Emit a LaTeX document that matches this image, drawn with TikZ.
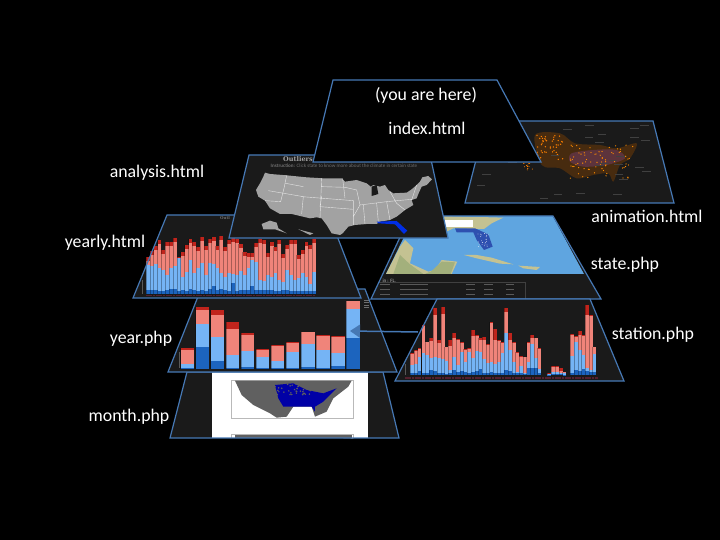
\documentclass[tikz,border=0pt]{standalone}
\usepackage{fontspec}
\setmainfont{Carlito}
\newfontfamily\titlefont{DejaVu Serif}
\usetikzlibrary{arrows.meta}
\definecolor{edgeblue}{HTML}{4678B4}
\definecolor{panel}{HTML}{1A1A1A}
\definecolor{barred}{HTML}{C0241C}
\definecolor{barsalmon}{HTML}{F0847A}
\definecolor{barlight}{HTML}{75B4F5}
\definecolor{bardark}{HTML}{1C64BE}
\definecolor{barstrip}{HTML}{55202E}
\definecolor{seablue}{HTML}{5FA5E0}
\definecolor{landtan}{HTML}{C4C292}
\definecolor{landgreen}{HTML}{A3B07C}
\definecolor{dimtext}{HTML}{6E6E6E}
\definecolor{maploam}{HTML}{A2A2A2}
\tikzset{
  pagelabel/.style={text=white,font=\fontsize{17.8}{20}\selectfont},
  pageedge/.style={draw=edgeblue,line width=1.2pt,line join=miter},
}
% one stacked bar: left, width, bottom, then the four tops
\newcommand{\stackbar}[7]{%
  \fill[barred] ({#1},{#4}) rectangle ({#1+#2},{#5});
  \fill[barsalmon] ({#1},{#5}) rectangle ({#1+#2},{#6});
  \fill[barlight] ({#1},{#6}) rectangle ({#1+#2},{#7});
  \fill[bardark] ({#1},{#7}) rectangle ({#1+#2},{#3});
  \draw[black,opacity=.3,line width=.7pt] ({#1},{#4}) -- ({#1},{#3});
}
\begin{document}
\begin{tikzpicture}[x=1pt,y=-1pt]
    \useasboundingbox (0,0) rectangle (720,540);
    \fill[black] (0,0) rectangle (720,540);

    % animation.html
    \fill[panel] (486,121) -- (653,121) -- (674,203) -- (465,203) -- cycle;
    \begin{scope}[shift={(460,115)},x=.3333pt,y=-.3333pt]
      \fill[orange!55!black,opacity=.4] plot[smooth cycle] coordinates {(225,60) (300,55) (345,85) (420,90) (470,100) (530,85) (510,130) (480,150) (460,200) (445,175) (400,180) (350,190) (300,160) (245,150)};
      \fill[violet!50!gray,opacity=.4] plot[smooth cycle] coordinates {(335,115) (400,105) (470,105) (495,130) (440,150) (370,155) (330,140)};
      \pgfmathsetseed{11}
      \foreach \i in {1,...,45}
        \fill[orange] (230+rnd*80,60+rnd*75) circle (2.2);
      \foreach \i in {1,...,75}
        \fill[orange!90!yellow] (330+rnd*190,90+rnd*100) circle (2);
      \foreach \i in {1,...,12}
        \fill[orange] (185+rnd*40,145+rnd*20) circle (1.6);
      \foreach \i in {1,...,30}
        \fill[white!25!black] (30+rnd*560,25+rnd*225) rectangle +(26,1.6);
    \end{scope}
    \draw[pageedge] (486,121) -- (653,121) -- (674,203) -- (465,203) -- cycle;

    % month.php
    \fill[panel] (187,372) -- (383,372) -- (399,438) -- (170,438) -- cycle;
    \fill[white] (212,372) rectangle (368,438);
    \begin{scope}[shift={(160,365)},x=.3333pt,y=-.3333pt]
      \draw[gray!55,fill=white,line width=.6pt] (215,47) rectangle (580,160);
      \fill[gray!75!black] (225,47) -- (575,47) -- (565,65) -- (520,100) -- (500,140) -- (465,155) -- (455,125) -- (400,125) -- (380,155) -- (350,158) -- (330,145) -- (280,120) -- (245,90) -- cycle;
      \fill[blue!65!black] (345,60) -- (400,55) -- (440,75) -- (490,85) -- (530,70) -- (490,110) -- (465,125) -- (465,140) -- (455,125) -- (400,125) -- (370,125) -- (355,100) -- cycle;
      \pgfmathsetseed{3}
      \foreach \i in {1,...,40}
        \fill[gray!75!black] (345+rnd*110,55+rnd*35) circle (2.5);
      \draw[gray!55,fill=white,line width=.6pt] (215,208) -- (215,220) (580,220) -- (580,208) -- (215,208);
      \fill[gray!75!black] (225,209) rectangle (575,219);
    \end{scope}
    \draw[pageedge] (187,372) -- (383,372) -- (399,438) -- (170,438) -- cycle;

    % state.php
    \fill[panel] (410,216) -- (553,216) -- (601,299) -- (371,299) -- cycle;
    \begin{scope}[shift={(360,205)},x=.3333pt,y=-.3333pt]
      \fill[seablue] (130,100) -- (190,33) -- (578,33) -- (672,207) -- (78,207) -- cycle;
      \fill[landtan] (250,33) -- (430,38) -- (395,55) -- (372,72) -- (345,72) -- (280,70) -- (250,85) -- cycle;
      \fill[landtan] (135,105) -- (160,130) -- (150,175) -- (205,200) -- (225,195) -- (245,165) -- (292,170) -- (275,207) -- (78,207) -- (120,125) -- cycle;
      \fill[landgreen] (215,198) -- (245,170) -- (285,172) -- (272,207) -- (195,207) -- cycle;
      \fill[landgreen] (120,150) -- (150,178) -- (190,207) -- (100,207) -- cycle;
      \fill[landtan] (312,150) -- (350,150) -- (395,158) -- (460,178) -- (420,176) -- (350,160) -- cycle;
      \fill[landtan] (475,182) -- (540,186) -- (530,195) -- (490,190) -- cycle;
      \fill[white] (255,45) rectangle (340,65);
      \fill[blue!35!seablue!75!black] (285,70) -- (345,70) -- (385,88) -- (398,125) -- (372,135) -- (350,105) -- (340,82) -- (290,82) -- cycle;
      \pgfmathsetseed{5}
      \foreach \i in {1,...,24}
        \fill[white] (352+rnd*38,85+rnd*40) circle (1.1);
      \draw[white!25!black,line width=.3pt] (55,230) -- (495,230) -- (495,282);
      \foreach \y in {238,252,266}
        \foreach \x/\w in {60/30,120/85,318/26,372/26,438/24}
          \fill[white!35!black] (\x,\y) rectangle +(\w,1.6);
    \end{scope}
    \node[text=white!75!black,font=\fontsize{5}{6}\selectfont,anchor=west] (statearea) at (379,281) {in : FL.};
    \draw[pageedge] (410,216) -- (553,216) -- (601,299) -- (371,299) -- cycle;

    % year.php
    \fill[panel] (201,289) -- (365,289) -- (397,372) -- (168,372) -- cycle;
    \begin{scope}[shift={(120,205)},x=.3333pt,y=-.3333pt]
      \foreach \t/\r/\s/\d [count=\k] in {430/434/478/490,306/315/357/425,316/330/395/468,351/371/449/488,384/389/439/487,432/434/456/490,420/423/468/490,411/413/442/489,380/382/418/487,391/393/435/488,393/396/443/483,287/287/311/400}
        \stackbar{182+45.2*(\k-1)}{40}{492}{\t}{\r}{\s}{\d};
      \draw[white!35!black,line width=.3pt] (176,440) -- (176,490);
      \foreach \y in {285,292,299,306}
        \fill[dimtext] (732,\y) rectangle +(14,1.6);
    \end{scope}
    \draw[pageedge] (201,289) -- (365,289) -- (397,372) -- (168,372) -- cycle;

    % yearly.html
    \fill[panel] (167,215) -- (329,215) -- (361,298) -- (133,298) -- cycle;
    \begin{scope}[shift={(120,205)},x=.3333pt,y=-.3333pt]
      \foreach \t/\s/\d [count=\k] in {155/180/255,138/182/256,122/177/256,106/190/257,135/195/257,112/210/255,110/190/252,100/183/252,155/160/258,142/215/255,120/200/257,103/165/252,112/205/255,125/190/258,96/175/255,122/210/258,102/175/252,97/178/242,122/190/255,93/205/253,125/215/256,104/205/258,100/207/233,103/210/258,118/198/254,142/210/255,145/190/256,145/165/242,113/172/255,102/225/256,104/228/256,145/210/256,112/215/256,125/205/257,104/225/258,148/230/256,120/195/256,104/210/257,105/225/258,150/220/258,135/205/258,112/215/258,120/238/258,103/200/258}
        \stackbar{78+11.6*(\k-1)}{11.6}{268}{\t}{\t+12}{\s}{\d};
      \foreach \k in {0,...,50}
        \fill[barstrip] (78+10*\k,271) rectangle +(8,3);
      \draw[white!35!black,line width=.3pt] (66,225) -- (66,268);
    \end{scope}
    \draw[pageedge] (167,215) -- (329,215) -- (361,298) -- (133,298) -- cycle;
    \node[text=dimtext,font=\fontsize{4}{5}\titlefont\bfseries] (yearlytitle) at (225,218) {Outl};

    % analysis.html
    \fill[panel] (249,155) -- (430,155) -- (448,238) -- (229,238) -- cycle;
    \node[text=maploam,font=\fontsize{6.5}{8}\titlefont\bfseries,anchor=west,inner sep=0pt] (analysistitle) at (283,159) {Outliers};
    \node[text=dimtext,font=\fontsize{5.1}{6}\selectfont] (analysishint) at (344,166) {\textbf{Instruction:} Click state to know more about the climate in certain state};
    \begin{scope}[shift={(220,70)},x=.3333pt,y=-.3333pt]
      \fill[maploam] (135,308) -- (150,312) -- (200,316) -- (260,322) -- (310,325) -- (365,325) -- (375,335) -- (410,330) -- (440,340) -- (452,350) -- (460,345) -- (480,350) -- (495,345) -- (505,360) -- (520,370) -- (560,368) -- (575,358) -- (590,345) -- (600,335) -- (607,322) -- (625,318) -- (636,328) -- (620,345) -- (605,350) -- (595,372) -- (590,385) -- (575,390) -- (580,405) -- (555,420) -- (530,440) -- (510,450) -- (480,455) -- (470,462) -- (440,462) -- (405,465) -- (385,470) -- (368,490) -- (360,495) -- (335,490) -- (320,465) -- (305,445) -- (290,442) -- (270,445) -- (215,432) -- (180,432) -- (150,415) -- (135,392) -- (115,380) -- (108,360) -- (120,340) -- (130,320) -- cycle;
      \fill[panel] (455,350) -- (470,345) -- (475,372) -- (455,378) -- cycle;
      \fill[maploam] (125,462) -- (150,452) -- (170,458) -- (175,475) -- (200,490) -- (165,478) -- (130,478) -- cycle;
      \fill[maploam] (235,478) -- (280,490) -- (270,495) -- cycle;
      \draw[white!80!gray,line width=.4pt] (200,316) -- (192,355) -- (182,395) -- (135,392) (145,362) -- (250,380) -- (245,432) (250,350) -- (197,340) (305,325) -- (300,445) (245,380) -- (400,392) -- (400,465) (305,350) -- (375,352) -- (410,360) -- (420,405) -- (500,395) -- (575,388) (305,380) -- (300,410) -- (400,418) (368,325) -- (375,385) (430,405) -- (435,462) (470,400) -- (475,455) (510,365) -- (530,400) -- (555,420) (420,405) -- (400,440) (500,395) -- (510,450) (590,345) -- (575,390);
      \fill[blue!80!cyan!90!black] (470,455) -- (530,453) -- (562,482) -- (552,492) -- (525,463) -- (475,460) -- cycle;
    \end{scope}
    \draw[pageedge] (249,155) -- (430,155) -- (448,238) -- (229,238) -- cycle;

    % station.php
    \fill[panel] (437,299) -- (590,299) -- (624,381) -- (395,381) -- cycle;
    \begin{scope}[shift={(360,205)},x=.3333pt,y=-.3333pt]
      \foreach \x/\t/\r/\s/\d in {150/445/448/480/503,162/435/437/478/503,173/430/432/455/498,185/360/362/445/503,196/410/412/450/503,208/400/408/460/495,219/310/330/455/497,231/405/415/458/505,243/305/328/462/505,254/425/427/467/508,265/405/422/495/505,277/385/400/455/495,288/403/405/480/500,300/412/414/440/497,311/432/434/472/500,322/430/433/440/503,334/376/393/460/500,345/390/392/438/497,356/400/405/440/493,367/395/405/462/505,378/418/420/475/503,389/352/354/470/500,400/372/405/478/505,411/405/408/470/503,422/412/414/445/503,433/310/320/385/495,444/385/405/435/497,456/412/414/472/505,467/440/443/500/505,478/452/455/482/505,489/455/457/505/507,500/412/414/470/490,511/390/400/418/488,522/398/400/460/490,533/430/432/492/505,562/505/506/508/510,573/483/485/500/506,585/483/485/500/506,597/490/498/503/507,608/500/502/505/510,631/388/390/452/505,642/393/395/412/495,654/377/390/435/497,665/390/393/450/492,676/300/330/490/497,687/330/332/495/500,698/425/427/448/500}
        \stackbar{\x}{11.4}{511}{\t}{\r}{\s}{\d};
      \foreach \k in {0,...,57}
        \fill[barstrip] (135+10*\k,516) rectangle +(8,6);
      \draw[white!35!black,line width=.3pt] (134,478) -- (134,510);
    \end{scope}
    \draw[pageedge] (437,299) -- (590,299) -- (624,381) -- (395,381) -- cycle;

    % index.html
    \fill[black] (333,80) -- (497,80) -- (541,162) -- (313,162) -- cycle;
    \draw[pageedge] (333,80) -- (497,80) -- (541,162) -- (313,162) -- cycle;

    % the link from a year bar to its stations
    \coordinate (yearbar) at (350,331);
    \coordinate (stationend) at (418,332);
    \draw[-{Triangle[length=10pt,width=13pt]},edgeblue,line width=1.5pt] (stationend) -- (yearbar);

    \node[pagelabel] (here) at (426,95) {(you are here)};
    \node[pagelabel] (index) at (427,128) {index.html};
    \node[pagelabel] (analysis) at (157,173) {analysis.html};
    \node[pagelabel] (animation) at (647,216) {animation.html};
    \node[pagelabel] (yearly) at (105,243) {yearly.html};
    \node[pagelabel] (state) at (625,265) {state.php};
    \node[pagelabel] (year) at (141,339) {year.php};
    \node[pagelabel] (station) at (653,335) {station.php};
    \node[pagelabel] (month) at (129,417) {month.php};
\end{tikzpicture}
\end{document}
